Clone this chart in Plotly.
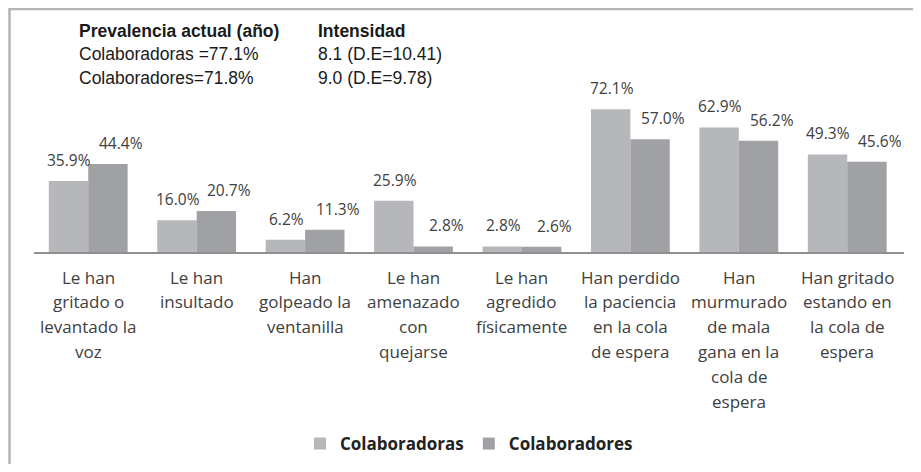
import plotly.graph_objects as go

categories = [
    "Le han\ngritado o\nlevantado la\nvoz",
    "Le han\ninsultado",
    "Han\ngolpeado la\nventanilla",
    "Le han\namenazado\ncon\nquejarse",
    "Le han\nagredido\nfísicamente",
    "Han perdido\nla paciencia\nen la cola\nde espera",
    "Han\nmurmurado\nde mala\ngana en la\ncola de\nespera",
    "Han gritado\nestando en\nla cola de\nespera",
]
colaboradoras = [35.9, 16.0, 6.2, 25.9, 2.8, 72.1, 62.9, 49.3]
colaboradores = [44.4, 20.7, 11.3, 2.8, 2.6, 57.0, 56.2, 45.6]
series_names = ["Colaboradoras", "Colaboradores"]

header_left = ["Prevalencia actual (año)", "Colaboradoras =77.1%", "Colaboradores=71.8%"]
header_right = ["Intensidad", "8.1 (D.E=10.41)", "9.0 (D.E=9.78)"]

# the page body has an 8px margin; figure is sized to stay inside the window
OFF = 8
W, H = 905, 456
# plot area in page pixels: x 34..904, y 54..252
ML = 34 - OFF
MT = 54 - OFF
MR = W - (904 - OFF)
MB = H - (252 - OFF)
PW = W - ML - MR
PH = H - MT - MB
BARGAP = 0.273
bar_px = PW / len(categories) * (1 - BARGAP) / 2

col_light = "#B6B7BA"
col_dark = "#A0A1A4"
txt = "#404040"


def px_to_paper_x(page_px):
    return (page_px - OFF - ML) / PW


def px_to_paper_y(page_py):
    return (MT + PH - (page_py - OFF)) / PH


fig = go.Figure()
fig.add_trace(go.Bar(x=categories, y=colaboradoras, name=series_names[0],
                     marker=dict(color=col_light, line=dict(width=0))))
fig.add_trace(go.Bar(x=categories, y=colaboradores, name=series_names[1],
                     marker=dict(color=col_dark, line=dict(width=0))))

annotations = []
# value labels
for vals, sign, extra in [(colaboradoras, -1, 1), (colaboradores, 1, 13)]:
    for c, v in zip(categories, vals):
        annotations.append(dict(
            x=c, y=v, xref="x", yref="y", text=f"{v:.1f}%", showarrow=False,
            xshift=sign * bar_px / 2 + extra, yshift=21, yanchor="middle",
            font=dict(family="Open Sans", size=15.5, color=txt)))
# category labels, one line at a time
for c in categories:
    for i, line in enumerate(c.split("\n")):
        annotations.append(dict(
            x=c, y=0, xref="x", yref="y", text=line, showarrow=False,
            yshift=-(25 + 24.8 * i), yanchor="middle",
            font=dict(family="Open Sans", size=17, color=txt)))
# header text
for i, (l, r) in enumerate(zip(header_left, header_right)):
    y = px_to_paper_y(31 + 23.5 * i)
    for x, t in [(78, l), (317, r)]:
        annotations.append(dict(
            x=px_to_paper_x(x), y=y, xref="paper", yref="paper",
            text=f"<b>{t}</b>" if i == 0 else t, showarrow=False,
            xanchor="left", yanchor="middle", xshift=-1,
            font=dict(family="Liberation Sans", size=17.5, color="#1a1a1a")))

# light frame around the chart (left and top edges visible)
shapes = [
    dict(type="rect", xref="paper", yref="paper", layer="above",
         x0=px_to_paper_x(OFF + 1.5), x1=px_to_paper_x(OFF + W + 10),
         y0=px_to_paper_y(OFF + H + 10), y1=px_to_paper_y(OFF + 1),
         line=dict(color="#B4B4B4", width=2.5), fillcolor="rgba(0,0,0,0)"),
]

fig.update_layout(
    width=W, height=H,
    margin=dict(l=ML, r=MR, t=MT, b=MB, pad=0, autoexpand=False),
    paper_bgcolor="white", plot_bgcolor="white",
    barmode="group", bargap=BARGAP, bargroupgap=0,
    showlegend=True,
    legend=dict(orientation="h", x=0.5, xanchor="center",
                y=px_to_paper_y(444), yanchor="middle",
                font=dict(family="Open Sans", size=17, color="#222222", weight="bold"),
                itemwidth=30, traceorder="normal"),
    xaxis=dict(showticklabels=False, showgrid=False, zeroline=False,
               showline=True, linecolor="#8E8E8E", linewidth=2, ticks=""),
    yaxis=dict(range=[0, 100], visible=False, showgrid=False, zeroline=False),
    annotations=annotations, shapes=shapes,
)

fig.write_html("out.html")
